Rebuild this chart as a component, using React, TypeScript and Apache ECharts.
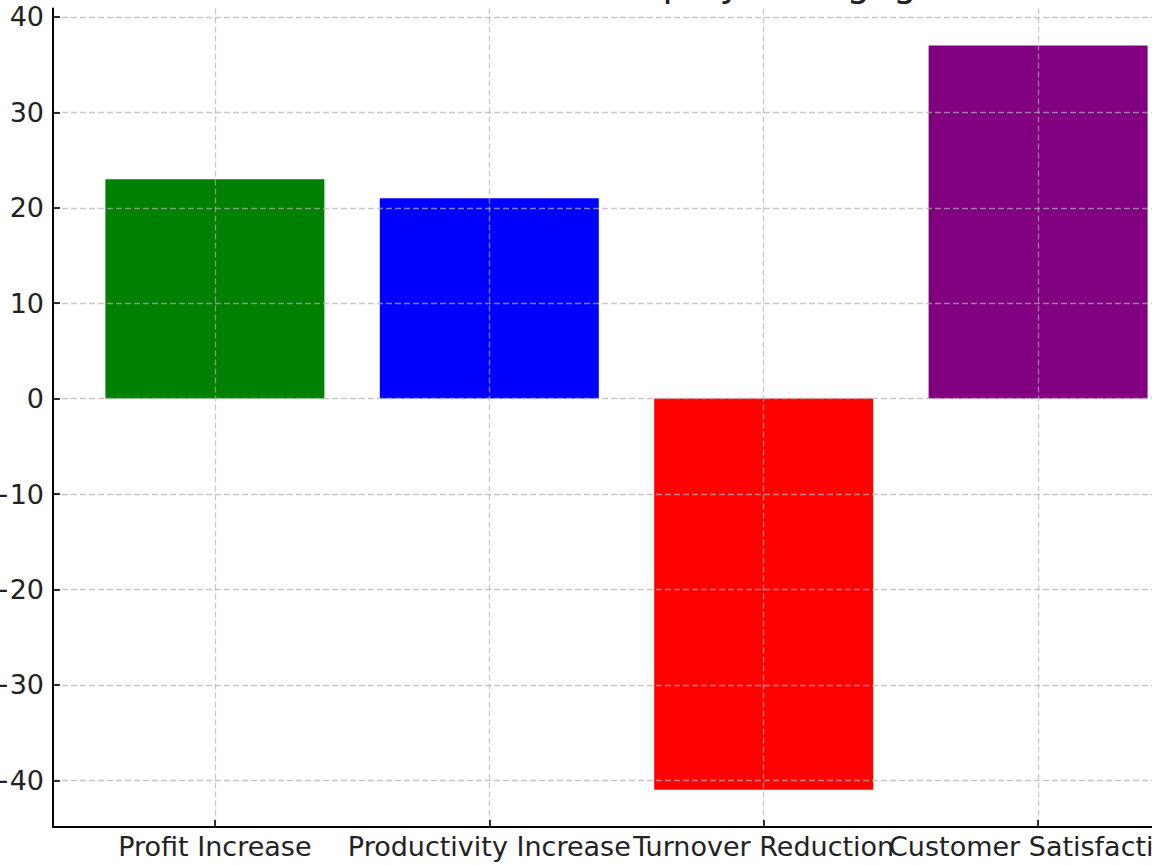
import React, { useEffect, useRef } from "react";
import * as echarts from "echarts";

const categories = ["Profit Increase", "Productivity Increase", "Turnover Reduction", "Customer Satisfaction"];
const values = [23, 21, -41, 37];
const barColors = ["#008000", "#0000ff", "#ff0000", "#800080"];
const yTicks = [-40, -30, -20, -10, 0, 10, 20, 30, 40];
const xTicks = [0, 1, 2, 3];
const xTicksEven = [0, 2];
const xTicksOdd = [1, 3];
const titleText = "Benefits of Increased Employee Engagement";

const OFFSET = 60;
const CHART_W = 1300;
const CHART_H = 925;
const FONT = "'DejaVu Sans', sans-serif";
const TEXT_COLOR = "#222";
const GRID_COLOR = "rgba(176,176,176,0.7)";

export default function App() {
  const ref = useRef<HTMLDivElement>(null);
  useEffect(() => {
    const chart = echarts.init(ref.current!, null, { renderer: "svg" });
    const xLabel = (custom: number[]) => ({
      customValues: custom,
      formatter: (v: number) => categories[Math.round(v)] ?? "",
      fontSize: 27,
      fontFamily: FONT,
      color: TEXT_COLOR,
      margin: 6,
      hideOverlap: false,
      showMinLabel: true,
      showMaxLabel: true,
    });
    chart.setOption({
      animation: false,
      backgroundColor: "#ffffff",
      graphic: [
        {
          type: "text",
          x: 197,
          y: 43,
          style: {
            text: titleText,
            fontSize: 37.3,
            fontFamily: FONT,
            fill: TEXT_COLOR,
            verticalAlign: "middle",
          },
        },
      ],
      grid: { left: 53, right: CHART_W - 1200, top: OFFSET + 8.4, bottom: CHART_H - (OFFSET + 827), containLabel: false, outerBoundsMode: "none" },
      xAxis: [
        {
          type: "value",
          position: "bottom",
          min: -0.59,
          max: 3.59,
          z: 3,
          axisLine: { show: true, onZero: false, lineStyle: { color: "#000", width: 2 } },
          axisTick: { show: true, inside: true, length: 7, customValues: xTicks, lineStyle: { color: "#000", width: 1.6 } },
          axisLabel: xLabel(xTicksEven),
          splitLine: { show: true, lineStyle: { color: GRID_COLOR, type: [6, 3], width: 1.3 } },
        },
        {
          type: "value",
          position: "bottom",
          offset: 0,
          min: -0.59,
          max: 3.59,
          z: 3,
          axisLine: { show: false, onZero: false },
          axisTick: { show: false },
          axisLabel: xLabel(xTicksOdd),
          splitLine: { show: false },
        },
      ],
      yAxis: {
        type: "value",
        min: -44.9,
        max: 40.9,
        z: 3,
        axisLine: { show: true, onZero: false, lineStyle: { color: "#000", width: 2 } },
        axisTick: { show: true, inside: true, length: 7, customValues: yTicks, lineStyle: { color: "#000", width: 1.6 } },
        axisLabel: {
          customValues: yTicks,
          formatter: (v: number) => String(v).replace("-", "\u2212"),
          fontSize: 27,
          fontFamily: FONT,
          color: TEXT_COLOR,
          margin: 9,
          hideOverlap: false,
        },
        splitLine: { show: true, lineStyle: { color: GRID_COLOR, type: [6, 3], width: 1.3 } },
      },
      series: [
        {
          type: "bar",
          xAxisIndex: 0,
          barWidth: 219,
          data: values.map((v, i) => ({ value: [xTicks[i], v], itemStyle: { color: barColors[i] } })),
        },
      ],
    });
    return () => chart.dispose();
  }, []);
  return (
    <div style={{ position: "fixed", left: 0, top: 0, width: 1152, height: 865, overflow: "hidden", background: "#fff" }}>
      <div ref={ref} style={{ position: "absolute", left: 0, top: -OFFSET, width: CHART_W, height: CHART_H }} />
    </div>
  );
}
